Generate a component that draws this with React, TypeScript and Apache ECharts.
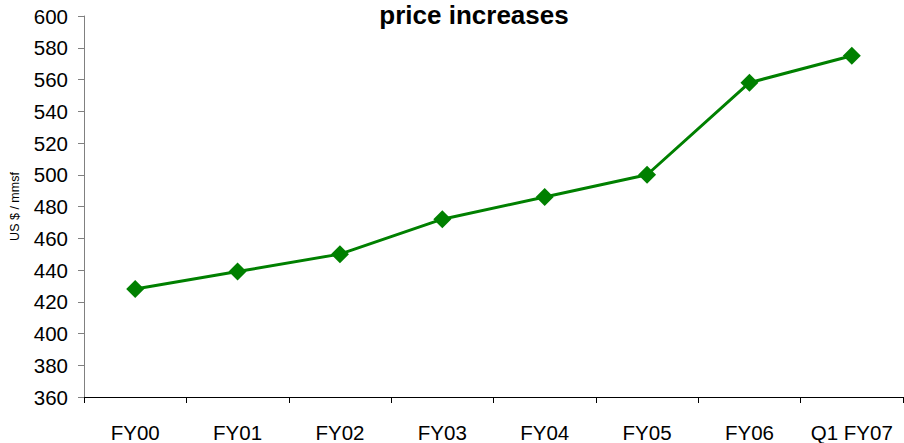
import React, { useEffect, useRef } from "react";
import * as echarts from "echarts";

const categories = ["FY00", "FY01", "FY02", "FY03", "FY04", "FY05", "FY06", "Q1 FY07"];
const prices = [428, 439, 450, 472, 486, 500, 558, 575];
const titleText = "price increases";
const yAxisName = "US $ / mmsf";

const FONT = "Liberation Sans, Arial, sans-serif";

export default function App() {
  const ref = useRef<HTMLDivElement>(null);
  useEffect(() => {
    const chart = echarts.init(ref.current!, null, { renderer: "svg" });
    chart.setOption({
      animation: false,
      backgroundColor: "#ffffff",
      textStyle: { fontFamily: FONT },
      title: {
        text: titleText,
        left: 474,
        top: 2,
        padding: 0,
        textAlign: "center",
        textStyle: { fontSize: 26, fontWeight: "bold", color: "#000", fontFamily: FONT },
      },
      grid: {
        left: 84,
        right: 1,
        top: 16,
        bottom: 46,
        containLabel: false,
        outerBoundsMode: "none",
      },
      xAxis: {
        type: "category",
        data: categories,
        boundaryGap: true,
        axisLine: { lineStyle: { color: "#000", width: 1 } },
        axisTick: { show: true, alignWithLabel: false, length: 6, lineStyle: { color: "#000" } },
        axisLabel: { color: "#000", fontSize: 20.5, margin: 25, interval: 0, fontFamily: FONT },
        splitLine: { show: false },
      },
      yAxis: {
        type: "value",
        min: 360,
        max: 600,
        interval: 20,
        name: yAxisName,
        nameLocation: "middle",
        nameGap: 63,
        nameRotate: 90,
        nameTextStyle: { fontSize: 12.5, color: "#000", fontFamily: FONT },
        axisLine: { show: true, lineStyle: { color: "#808080", width: 1 } },
        axisTick: { show: true, length: 6, lineStyle: { color: "#808080" } },
        axisLabel: { color: "#000", fontSize: 20.5, margin: 16, fontFamily: FONT },
        splitLine: { show: false },
      },
      series: [
        {
          type: "line",
          data: prices,
          symbol: "diamond",
          symbolSize: 18,
          lineStyle: { color: "#008000", width: 3 },
          itemStyle: { color: "#008000" },
        },
      ],
    });
    return () => chart.dispose();
  }, []);
  return <div ref={ref} style={{ width: 904, height: 443, position: "absolute", left: 0, top: 0 }} />;
}
